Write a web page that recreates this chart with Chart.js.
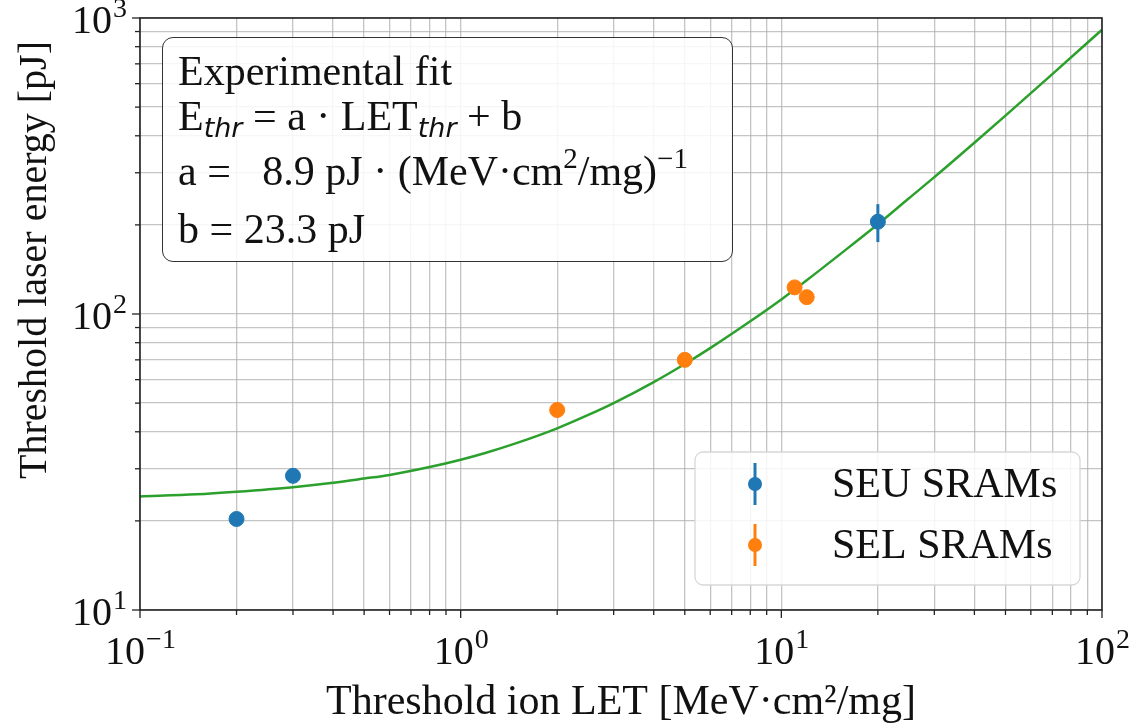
<!DOCTYPE html>
<html>
<head>
<meta charset="utf-8">
<script src="https://cdn.jsdelivr.net/npm/chart.js@4.4.1/dist/chart.umd.min.js"></script>
<style>
  body { margin: 0; background: #fff; }
  #wrap { position: relative; width: 1134px; height: 726px; }
  #fitbox {
    position: absolute; left: 162px; top: 37px; width: 571px; height: 225px;
    box-sizing: border-box; border: 1.5px solid #333; border-radius: 11px;
    background: rgba(255, 255, 255, 0.85);
    font-family: "Liberation Serif", serif; font-size: 42px; color: #111;
  }
  #fitbox .ln { position: absolute; left: 15px; line-height: 46px; white-space: nowrap; }
  #fitbox .sb { font-family: "DejaVu Sans", sans-serif; font-style: italic; font-size: 27px; position: relative; top: 7px; }
  #fitbox sup { font-size: 29px; vertical-align: 0; position: relative; top: -17px; }
</style>
</head>
<body>
<div id="wrap">
  <canvas id="letChart" width="1134" height="726"></canvas>
  <div id="fitbox">
    <div class="ln" style="top:10px">Experimental fit</div>
    <div class="ln" style="top:55px">E<span class="sb">thr</span> = a · LET<span class="sb">thr</span> + b</div>
    <div class="ln" style="top:110px">a =&nbsp;&nbsp;&nbsp;8.9 pJ · (MeV·cm<sup>2</sup>/mg)<sup>−1</sup></div>
    <div class="ln" style="top:168px">b = 23.3 pJ</div>
  </div>
</div>
<script>
// measured points
const seuLET = [0.2, 0.3, 20];
const seuE = [20.3, 28.4, 205];
const seuErr = [0, 0, 30];
const selLET = [2, 5, 11, 12];
const selE = [47.4, 70, 123, 114];
const selErr = [0, 0, 0, 0];

// fit curve
const fitLET = [0.1, 0.15, 0.2, 0.3, 0.4, 0.5, 0.6, 0.8, 1, 1.2, 1.5, 2, 2.5, 3, 4, 5, 6, 8, 10, 12, 15, 20, 25, 30, 40, 50, 70, 100];
const fitE = [24.2, 24.6, 25.1, 26.0, 26.9, 27.8, 28.6, 30.4, 32.2, 34.0, 36.7, 41.1, 45.6, 50.0, 58.9, 67.8, 76.7, 94.5, 112, 130, 157, 201, 246, 290, 379, 468, 646, 913];

const xDecades = [-1, 0, 1, 2];
const yDecades = [1, 2, 3];

const seriesNames = ["SEU SRAMs", "SEL SRAMs"];
const blue = "#1f77b4", orange = "#ff7f0e", green = "#2ca02c";
const serif = "Liberation Serif";

function logTicks(dec) {
  const out = [];
  for (let i = 0; i < dec.length - 1; i++) {
    for (let m = 1; m < 10; m++) out.push({ value: m * Math.pow(10, dec[i]) });
  }
  out.push({ value: Math.pow(10, dec[dec.length - 1]) });
  return out;
}

function toXY(xs, ys) {
  return xs.map((x, i) => ({ x: x, y: ys[i] }));
}

function drawPow(ctx, exp, x, y, align) {
  ctx.font = "40px '" + serif + "'";
  const w1 = ctx.measureText("10").width;
  ctx.font = "28px '" + serif + "'";
  const w2 = ctx.measureText(exp).width;
  const total = w1 + w2;
  let x0 = align === "right" ? x - total : x - total / 2;
  ctx.textAlign = "left";
  ctx.textBaseline = "alphabetic";
  ctx.font = "40px '" + serif + "'";
  ctx.fillText("10", x0, y);
  ctx.font = "28px '" + serif + "'";
  ctx.fillText(exp, x0 + w1 + 1, y - 16);
}

const axisDecor = {
  id: "axisDecor",
  afterDatasetsDraw(chart) {
    const ctx = chart.ctx;
    // error bars
    const sets = [[0, seuLET, seuE, seuErr], [1, selLET, selE, selErr]];
    const xs = chart.scales.x, ys = chart.scales.y;
    ctx.save();
    ctx.lineWidth = 3;
    sets.forEach(([di, lx, ly, le]) => {
      ctx.strokeStyle = chart.data.datasets[di].backgroundColor;
      lx.forEach((v, i) => {
        if (!le[i]) return;
        const px = xs.getPixelForValue(v);
        ctx.beginPath();
        ctx.moveTo(px, ys.getPixelForValue(ly[i] - le[i]));
        ctx.lineTo(px, ys.getPixelForValue(ly[i] + le[i]));
        ctx.stroke();
      });
    });
    ctx.restore();
  },
  afterDraw(chart) {
    const ctx = chart.ctx;
    const a = chart.chartArea;
    const xs = chart.scales.x, ys = chart.scales.y;
    ctx.save();
    // frame
    ctx.strokeStyle = "#222";
    ctx.lineWidth = 1.6;
    ctx.strokeRect(a.left, a.top, a.right - a.left, a.bottom - a.top);
    // tick marks
    ctx.lineWidth = 1.3;
    xs.ticks.forEach(t => {
      const px = xs.getPixelForValue(t.value);
      const major = Math.abs(Math.log10(t.value) % 1) < 1e-9;
      ctx.beginPath();
      ctx.moveTo(px, a.bottom);
      ctx.lineTo(px, a.bottom + (major ? 8 : 5));
      ctx.stroke();
    });
    ys.ticks.forEach(t => {
      const py = ys.getPixelForValue(t.value);
      const major = Math.abs(Math.log10(t.value) % 1) < 1e-9;
      ctx.beginPath();
      ctx.moveTo(a.left, py);
      ctx.lineTo(a.left - (major ? 8 : 5), py);
      ctx.stroke();
    });
    // tick labels
    ctx.fillStyle = "#111";
    xDecades.forEach(d => {
      const px = xs.getPixelForValue(Math.pow(10, d));
      drawPow(ctx, String(d).replace("-", "−"), px, a.bottom + 54, "center");
    });
    yDecades.forEach(d => {
      const py = ys.getPixelForValue(Math.pow(10, d));
      drawPow(ctx, String(d), a.left - 14, py + 15, "right");
    });
    // y title
    ctx.save();
    ctx.translate(35, 260);
    ctx.rotate(-Math.PI / 2);
    ctx.textAlign = "center";
    ctx.textBaseline = "middle";
    ctx.font = "40px '" + serif + "'";
    ctx.fillText("Threshold laser energy [pJ]", 0, 0);
    ctx.restore();
    // legend
    const lx = 695, ly = 452, lw = 385, lh = 133;
    ctx.beginPath();
    ctx.roundRect(lx, ly, lw, lh, 8);
    ctx.fillStyle = "rgba(255,255,255,0.85)";
    ctx.fill();
    ctx.strokeStyle = "#d8d8d8";
    ctx.lineWidth = 1.3;
    ctx.stroke();
    [blue, orange].forEach((c, i) => {
      const cy = ly + 32 + i * 61;
      ctx.strokeStyle = c;
      ctx.fillStyle = c;
      ctx.lineWidth = 3;
      ctx.beginPath();
      ctx.moveTo(755, cy - 21);
      ctx.lineTo(755, cy + 21);
      ctx.stroke();
      ctx.beginPath();
      ctx.arc(755, cy, 7, 0, Math.PI * 2);
      ctx.fill();
      ctx.fillStyle = "#111";
      ctx.font = "42px '" + serif + "'";
      ctx.textAlign = "left";
      ctx.textBaseline = "middle";
      ctx.fillText(seriesNames[i], 832, cy + 2);
    });
    ctx.restore();
  }
};

const gridStyle = { color: "rgba(176,176,176,0.75)", lineWidth: 1.3, drawTicks: false };

new Chart(document.getElementById("letChart"), {
  type: "scatter",
  data: {
    datasets: [
      {
        label: seriesNames[0],
        data: toXY(seuLET, seuE),
        backgroundColor: blue,
        borderColor: blue,
        pointRadius: 7.5,
        pointHoverRadius: 7.5,
      },
      {
        label: seriesNames[1],
        data: toXY(selLET, selE),
        backgroundColor: orange,
        borderColor: orange,
        pointRadius: 7.5,
        pointHoverRadius: 7.5,
      },
      {
        label: "Experimental fit",
        type: "line",
        data: toXY(fitLET, fitE),
        borderColor: green,
        borderWidth: 2.5,
        pointRadius: 0,
        cubicInterpolationMode: "monotone",
        fill: false,
      },
    ],
  },
  options: {
    responsive: false,
    animation: false,
    events: [],
    layout: { padding: { top: 18, right: 32, left: 0, bottom: 0 } },
    plugins: { legend: { display: false }, tooltip: { enabled: false } },
    scales: {
      x: {
        type: "logarithmic",
        min: 0.1,
        max: 100,
        afterBuildTicks: s => { s.ticks = logTicks(xDecades); },
        afterFit: s => { s.height = 116; },
        ticks: { display: false },
        grid: gridStyle,
        border: { display: false },
        title: {
          display: true,
          text: "Threshold ion LET [MeV·cm²/mg]",
          color: "#111",
          font: { family: serif, size: 42, lineHeight: 1.1 },
          padding: { top: 0, bottom: 0 },
        },
      },
      y: {
        type: "logarithmic",
        min: 10,
        max: 1000,
        afterBuildTicks: s => { s.ticks = logTicks(yDecades); },
        afterFit: s => { s.width = 140; },
        ticks: { display: false },
        grid: gridStyle,
        border: { display: false },
      },
    },
  },
  plugins: [axisDecor],
});
</script>
</body>
</html>
